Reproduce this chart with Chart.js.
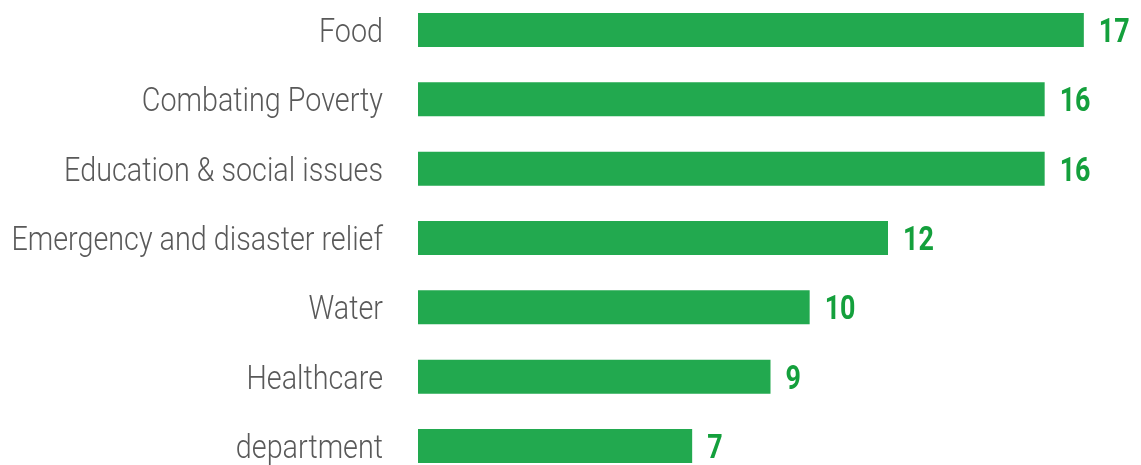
<!DOCTYPE html>
<html>
<head>
<meta charset="utf-8">
<script src="https://cdn.jsdelivr.net/npm/chart.js@4"></script>
<style>
  html, body { margin: 0; padding: 0; background: #fff; }
  #wrap { width: 1141px; height: 465px; }
</style>
</head>
<body>
<div id="wrap"><canvas id="chart"></canvas></div>
<script>
const categories = ['Food', 'Combating Poverty', 'Education & social issues', 'Emergency and disaster relief', 'Water', 'Healthcare', 'department'];
const counts = [17, 16, 16, 12, 10, 9, 7];

const FONT = "Roboto, 'Noto Sans', sans-serif";
const LABEL_SQUEEZE = 0.845;   // fake a condensed face
const VALUE_SQUEEZE = 0.79;

// category names and the numbers, drawn narrow
const condensedText = {
    id: 'condensedText',
    afterDatasetsDraw(chart) {
        const ctx = chart.ctx;
        const yScale = chart.scales.y;
        const meta = chart.getDatasetMeta(0);
        ctx.save();
        ctx.textBaseline = 'alphabetic';

        ctx.font = '300 34px ' + FONT;
        ctx.fillStyle = '#595959';
        ctx.textAlign = 'right';
        categories.forEach((name, i) => {
            const y = yScale.getPixelForTick(i);
            ctx.save();
            ctx.translate(383, y + 12);
            ctx.scale(LABEL_SQUEEZE, 1);
            ctx.fillText(name, 0, 0);
            ctx.restore();
        });

        ctx.font = 'bold 34px ' + FONT;
        ctx.fillStyle = '#14a03c';
        ctx.textAlign = 'left';
        meta.data.forEach((bar, i) => {
            ctx.save();
            ctx.translate(bar.x + 15, bar.y + 12);
            ctx.scale(VALUE_SQUEEZE, 1);
            ctx.fillText(String(counts[i]), 0, 0);
            ctx.restore();
        });
        ctx.restore();
    }
};

new Chart(document.getElementById('chart'), {
    type: 'bar',
    data: {
        labels: categories,
        datasets: [{
            data: counts,
            backgroundColor: '#22a94f',
            barPercentage: 0.49,
            categoryPercentage: 1,
            clip: false,
        }]
    },
    options: {
        indexAxis: 'y',
        responsive: true,
        maintainAspectRatio: false,
        animation: false,
        layout: { padding: { top: 30, bottom: 19, left: 0, right: 18 } },
        plugins: {
            legend: { display: false },
            tooltip: { enabled: false }
        },
        scales: {
            x: {
                display: false,
                min: 0,
                max: 18
            },
            y: {
                offset: false,
                border: { display: false },
                grid: { display: false, drawTicks: false },
                ticks: { display: false },
                afterFit: (scale) => {
                    scale.width = 418;
                    scale.paddingTop = 0;
                    scale.paddingBottom = 0;
                }
            }
        }
    },
    plugins: [condensedText]
});
</script>
</body>
</html>
